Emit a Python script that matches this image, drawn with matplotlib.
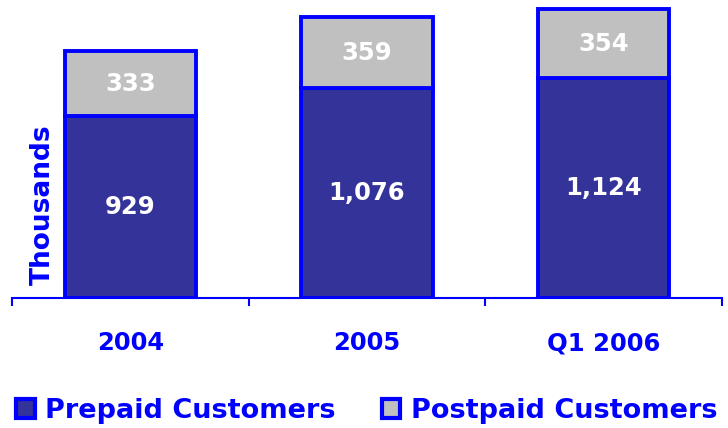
import matplotlib.pyplot as plt
from matplotlib.patches import Patch

plt.rcParams['font.family'] = ['DejaVu Sans']

# data (thousands of customers)
periods = ['2004', '2005', 'Q1 2006']
prepaid = [929, 1076, 1124]
postpaid = [333, 359, 354]

blue = '#0000FF'
navy = '#333399'
grey = '#C0C0C0'

fig = plt.figure(figsize=(7.28, 4.28), dpi=100)
ax = fig.add_axes([12 / 728, 1 - 298 / 428, 710 / 728, 298 / 428])

x = range(len(periods))
ax.bar(x, prepaid, width=0.555, color=navy, edgecolor=blue, linewidth=2.8, zorder=3)
ax.bar(x, postpaid, width=0.555, bottom=prepaid, color=grey, edgecolor=blue,
       linewidth=2.8, zorder=3)

for i in x:
    ax.text(i, prepaid[i] / 2, f'{prepaid[i]:,}', ha='center', va='center',
            color='white', fontsize=17.5, fontweight='bold', zorder=4)
    ax.text(i, prepaid[i] + postpaid[i] / 2, f'{postpaid[i]:,}', ha='center',
            va='center', color='white', fontsize=17.5, fontweight='bold', zorder=4)

ax.set_xlim(-0.5, 2.5)
ax.set_ylim(0, 1524)
ax.set_yticks([])
for s in ['left', 'top', 'right']:
    ax.spines[s].set_visible(False)
ax.spines['bottom'].set_color(blue)
ax.spines['bottom'].set_linewidth(1.5)

ax.set_xticks(list(x))
ax.set_xticklabels(periods, color=blue, fontsize=17.5, fontweight='bold')
ax.tick_params(axis='x', which='major', length=0, pad=24)
ax.set_xticks([-0.5, 0.5, 1.5, 2.5], minor=True)
ax.tick_params(axis='x', which='minor', length=6, width=1.5, color=blue)

ax.text(31 / 710, 93 / 298, 'Thousands', transform=ax.transAxes, rotation=90,
        ha='center', va='center', color=blue, fontsize=19, fontweight='bold')

handles = [Patch(facecolor=navy, edgecolor=blue, linewidth=3, label='Prepaid Customers'),
           Patch(facecolor=grey, edgecolor=blue, linewidth=3, label='Postpaid Customers')]
leg = fig.legend(handles=handles, loc='center', bbox_to_anchor=(0.504, 0.04), ncol=2,
                 frameon=False, handlelength=0.68, handleheight=0.68, handletextpad=0.4,
                 columnspacing=1.7, borderaxespad=0, borderpad=0,
                 prop={'size': 19.5, 'weight': 'bold'})
for t in leg.get_texts():
    t.set_color(blue)

plt.savefig('out.png', dpi=100)
